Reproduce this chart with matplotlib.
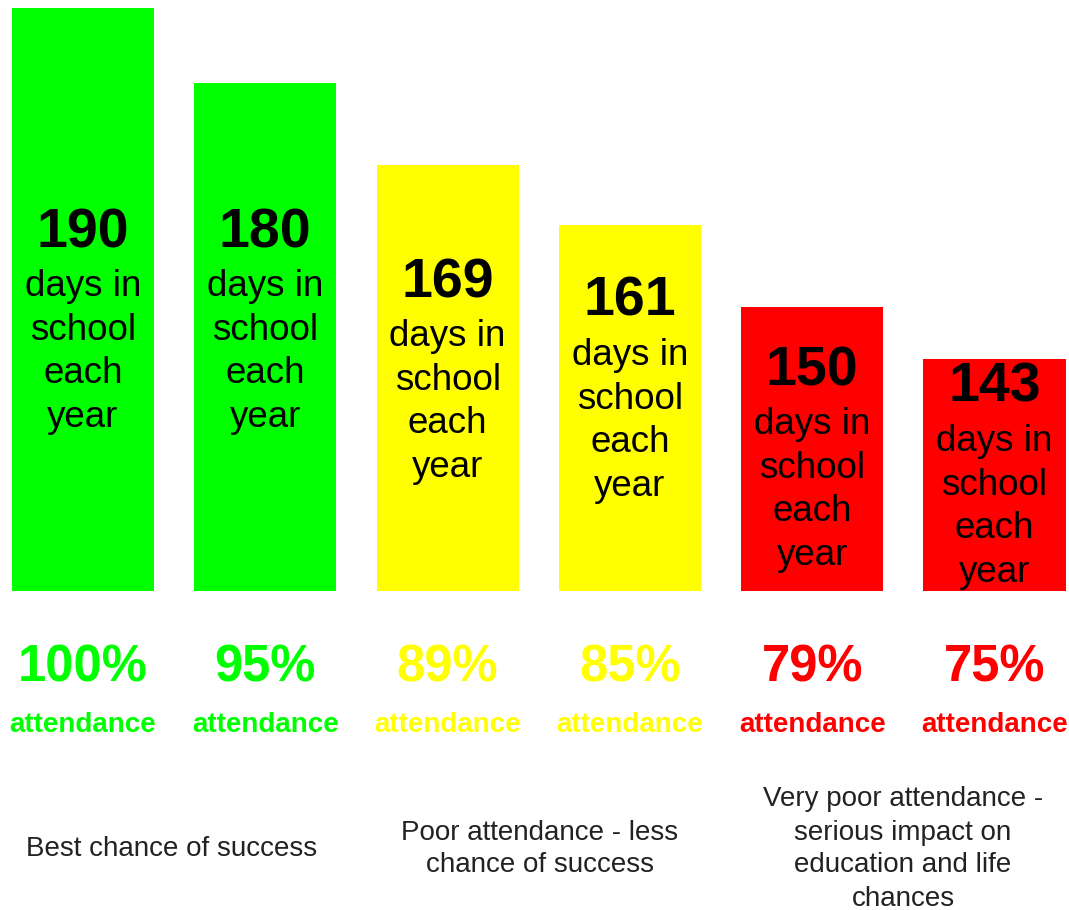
import matplotlib.pyplot as plt
import matplotlib.transforms as mtransforms

plt.rcParams['font.family'] = ['Liberation Sans', 'DejaVu Sans']

# Datos
dias = [190, 180, 169, 161, 150, 143]
asistencia = ["100%", "95%", "89%", "85%", "79%", "75%"]
colores = ["#00ff00", "#00ff00", "#ffff00", "#ffff00", "#ff0000", "#ff0000"]
textos_grupo = ["Best chance of success",
                "Poor attendance - less\nchance of success",
                "Very poor attendance -\nserious impact on\neducation and life\nchances"]

# Posiciones (pixeles desde arriba) de los numeros dentro de las barras
num_y_px = [228, 228, 278, 297, 366, 383]
grupo_x_px = [172, 540, 903]

W, H = 1069, 910
fig = plt.figure(figsize=(W / 100, H / 100), dpi=100)

# Eje de barras: de y=8px (arriba) a y=591px (base)
ax = fig.add_axes([0, (H - 591) / H, 1, (591 - 8) / H])
x = range(len(dias))
ax.bar(x, dias, width=0.78, color=colores)
ax.set_xlim(-83 / 182.3, (W - 83) / 182.3)
ax.set_ylim(112, 190)
ax.axis("off")

trans = mtransforms.blended_transform_factory(ax.transData, fig.transFigure)

def fy(px):
    return 1 - px / H

for i, d in enumerate(dias):
    ax.text(i, fy(num_y_px[i] + 5), str(d), transform=trans, ha="center", va="center",
            fontsize=40, fontweight="bold", color="black")
    ax.text(i, fy(num_y_px[i] + 124), "days in\nschool\neach\nyear", transform=trans,
            ha="center", va="center", fontsize=26.5, color="black", linespacing=1.33)
    # Porcentaje de asistencia
    ax.text(i, fy(668), asistencia[i], transform=trans, ha="center", va="center",
            fontsize=36.5, fontweight="bold", color=colores[i])
    ax.text(i, fy(725), "attendance", transform=trans, ha="center", va="center",
            fontsize=20, fontweight="bold", color=colores[i])

for gx, t in zip(grupo_x_px, textos_grupo):
    fig.text(gx / W, fy(849), t, ha="center", va="center", fontsize=20,
             color="#222222", linespacing=1.35)

fig.savefig("out.png", dpi=100, facecolor="white")
